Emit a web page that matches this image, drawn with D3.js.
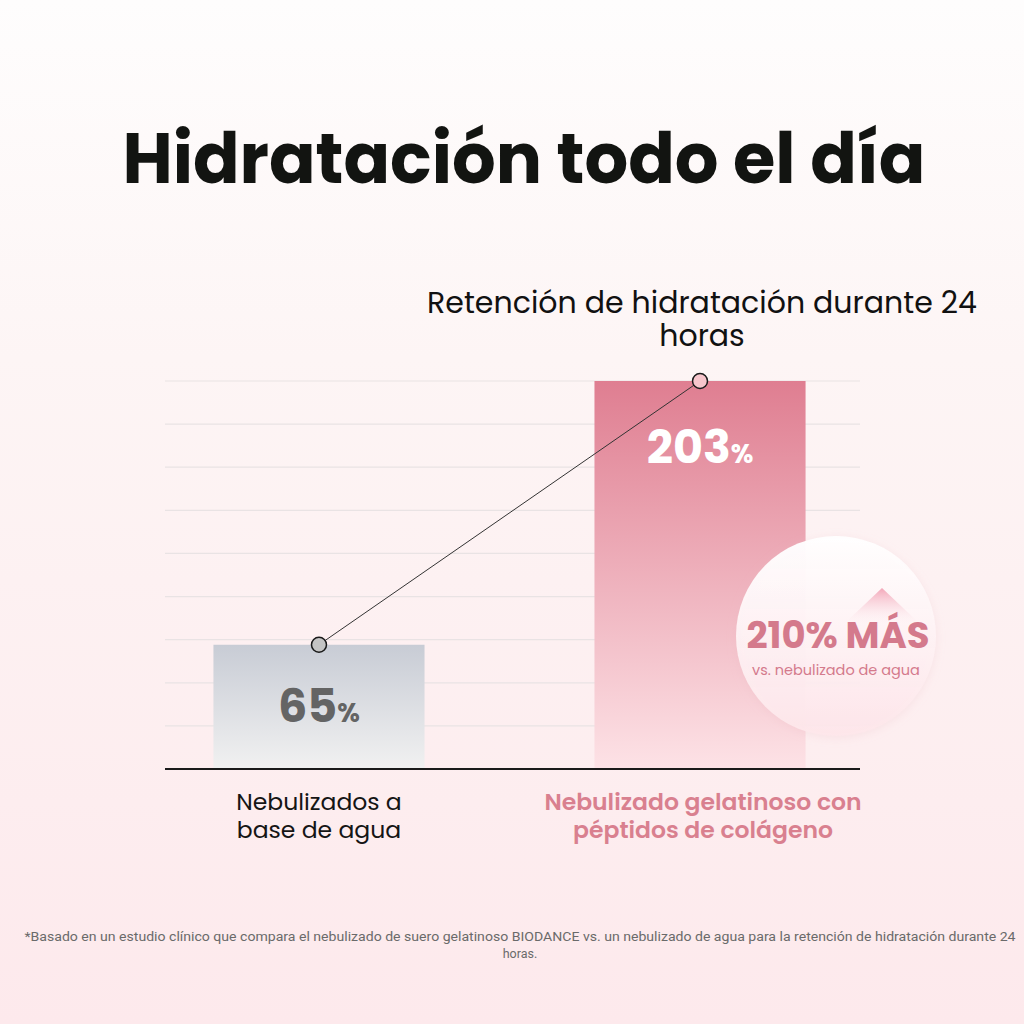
<!DOCTYPE html>
<html lang="es">
<head>
<meta charset="UTF-8">
<script src="https://d3js.org/d3.v7.min.js"></script>
<style>
  html, body { margin: 0; padding: 0; }
  body { width: 1024px; height: 1024px; overflow: hidden; }
</style>
</head>
<body>
<script>
// data
const categories = ["Nebulizados a base de agua", "Nebulizado gelatinoso con péptidos de colágeno"];
const labelLines = [["Nebulizados a", "base de agua"], ["Nebulizado gelatinoso con", "péptidos de colágeno"]];
const values = [65, 203];
const gridCount = 9;
const title = "Hidratación todo el día";
const subtitle = ["Retención de hidratación durante 24", "horas"];
const badgeMain = "210% MÁS";
const badgeSub = "vs. nebulizado de agua";
const footnote = ["*Basado en un estudio clínico que compara el nebulizado de suero gelatinoso BIODANCE vs. un nebulizado de agua para la retención de hidratación durante 24", "horas."];

const width = 1024, height = 1024;
const font = "Poppins, Inter, 'Noto Sans', sans-serif";

const svg = d3.select("body").append("svg")
  .attr("width", width)
  .attr("height", height);

const defs = svg.append("defs");

const bg = defs.append("linearGradient").attr("id", "bg").attr("x1", 0).attr("y1", 0).attr("x2", 0).attr("y2", 1);
bg.append("stop").attr("offset", "0%").attr("stop-color", "#fefdfd");
bg.append("stop").attr("offset", "35%").attr("stop-color", "#fdf5f5");
bg.append("stop").attr("offset", "100%").attr("stop-color", "#fde9ec");

const gGray = defs.append("linearGradient").attr("id", "barGray").attr("x1", 0).attr("y1", 0).attr("x2", 0).attr("y2", 1);
gGray.append("stop").attr("offset", "0%").attr("stop-color", "#c8ccd5");
gGray.append("stop").attr("offset", "100%").attr("stop-color", "#f1f1f1");

const gPink = defs.append("linearGradient").attr("id", "barPink").attr("x1", 0).attr("y1", 0).attr("x2", 0).attr("y2", 1);
gPink.append("stop").attr("offset", "0%").attr("stop-color", "#df7e91");
gPink.append("stop").attr("offset", "100%").attr("stop-color", "#fde2e6");

const gBadge = defs.append("linearGradient").attr("id", "badge").attr("x1", 0).attr("y1", 0).attr("x2", 0).attr("y2", 1);
gBadge.append("stop").attr("offset", "0%").attr("stop-color", "#ffffff").attr("stop-opacity", 0.97);
gBadge.append("stop").attr("offset", "100%").attr("stop-color", "#fde6ea").attr("stop-opacity", 0.95);

const gArrow = defs.append("linearGradient").attr("id", "arrow").attr("x1", 0).attr("y1", 0).attr("x2", 0).attr("y2", 1);
gArrow.append("stop").attr("offset", "0%").attr("stop-color", "#f3a6b8");
gArrow.append("stop").attr("offset", "100%").attr("stop-color", "#fdeef1").attr("stop-opacity", 0);

const shadow = defs.append("filter").attr("id", "soft").attr("x", "-30%").attr("y", "-30%").attr("width", "160%").attr("height", "160%");
shadow.append("feGaussianBlur").attr("in", "SourceAlpha").attr("stdDeviation", 5);
shadow.append("feOffset").attr("dy", 2).attr("result", "b");
shadow.append("feFlood").attr("flood-color", "#e9b7c0").attr("flood-opacity", 0.25);
shadow.append("feComposite").attr("in2", "b").attr("operator", "in");
const merge = shadow.append("feMerge");
merge.append("feMergeNode");
merge.append("feMergeNode").attr("in", "SourceGraphic");

svg.append("rect").attr("width", width).attr("height", height).attr("fill", "url(#bg)");

// title
svg.append("text")
  .attr("x", 524).attr("y", 183)
  .attr("text-anchor", "middle")
  .attr("font-family", font)
  .attr("font-weight", 700)
  .attr("font-size", 70)
  .attr("fill", "#121411")
  .attr("textLength", 803)
  .attr("lengthAdjust", "spacingAndGlyphs")
  .text(title);

// subtitle
svg.append("g").selectAll("text")
  .data(subtitle)
  .join("text")
  .attr("x", 702).attr("y", (d, i) => 313 + i * 33)
  .attr("text-anchor", "middle")
  .attr("font-family", font)
  .attr("font-size", 30)
  .attr("fill", "#111")
  .text(d => d);

// scales
const x = d3.scaleBand()
  .domain(categories)
  .range([162, 857])
  .paddingInner(0.446)
  .paddingOuter(0.135);

const y = d3.scaleLinear()
  .domain([0, d3.max(values)])
  .range([769, 381]);

const gridVals = d3.range(1, gridCount + 1).map(i => i * d3.max(values) / gridCount);

svg.append("g").selectAll("line")
  .data(gridVals)
  .join("line")
  .attr("x1", 165).attr("x2", 860)
  .attr("y1", d => y(d)).attr("y2", d => y(d))
  .attr("stroke", "#e9e3e4")
  .attr("stroke-width", 1.2);

// bars
svg.append("g").selectAll("rect")
  .data(values)
  .join("rect")
  .attr("x", (d, i) => x(categories[i]))
  .attr("y", d => y(d))
  .attr("width", x.bandwidth())
  .attr("height", d => y(0) - y(d))
  .attr("fill", (d, i) => i === 0 ? "url(#barGray)" : "url(#barPink)");

// axis baseline
svg.append("line")
  .attr("x1", 165).attr("x2", 860)
  .attr("y1", y(0)).attr("y2", y(0))
  .attr("stroke", "#1a1a1a")
  .attr("stroke-width", 2);

// badge circle
const bx = 836, by = 636, br = 100;
svg.append("circle")
  .attr("cx", bx).attr("cy", by).attr("r", br)
  .attr("fill", "url(#badge)")
  .attr("filter", "url(#soft)");

svg.append("path")
  .attr("d", `M${bx + 46},${by - 48} L${bx + 84},${by - 12} L${bx + 8},${by - 12} Z`)
  .attr("fill", "url(#arrow)");

svg.append("text")
  .attr("x", bx + 2).attr("y", by + 12)
  .attr("text-anchor", "middle")
  .attr("font-family", font)
  .attr("font-weight", 700)
  .attr("font-size", 37)
  .attr("fill", "#d47a8c")
  .text(badgeMain);

svg.append("text")
  .attr("x", bx).attr("y", by + 39)
  .attr("text-anchor", "middle")
  .attr("font-family", font)
  .attr("font-size", 14.5)
  .attr("fill", "#d47a8c")
  .text(badgeSub);

// connecting line + dots
const cx = (d, i) => x(categories[i]) + x.bandwidth() / 2;
svg.append("line")
  .attr("x1", cx(values[0], 0)).attr("y1", y(values[0]))
  .attr("x2", cx(values[1], 1)).attr("y2", y(values[1]))
  .attr("stroke", "#333")
  .attr("stroke-width", 1);

svg.append("g").selectAll("circle")
  .data(values)
  .join("circle")
  .attr("cx", cx)
  .attr("cy", d => y(d))
  .attr("r", 7.5)
  .attr("fill", (d, i) => i === 0 ? "#c4c4c4" : "#f7c5cc")
  .attr("stroke", "#1a1a1a")
  .attr("stroke-width", 1.5);

// value labels
const vl = svg.append("g").selectAll("text")
  .data(values)
  .join("text")
  .attr("x", cx)
  .attr("y", (d, i) => i === 0 ? 722 : 463)
  .attr("text-anchor", "middle")
  .attr("font-family", font)
  .attr("font-weight", 700)
  .attr("fill", (d, i) => i === 0 ? "#646464" : "#ffffff");
vl.append("tspan").attr("font-size", 46).text(d => d);
vl.append("tspan").attr("font-size", 26).text("%");

// category labels
labelLines.forEach((lines, i) => {
  svg.append("g").selectAll("text")
    .data(lines)
    .join("text")
    .attr("x", x(categories[i]) + x.bandwidth() / 2 + (i === 0 ? 0 : 3))
    .attr("y", (d, j) => 810 + j * 28)
    .attr("text-anchor", "middle")
    .attr("font-family", font)
    .attr("font-weight", i === 0 ? 400 : 600)
    .attr("font-size", 23.5)
    .attr("fill", i === 0 ? "#151515" : "#d9808f")
    .text(d => d);
});

// footnote
svg.append("g").selectAll("text")
  .data(footnote)
  .join("text")
  .attr("x", 520).attr("y", (d, i) => 941 + i * 17)
  .attr("text-anchor", "middle")
  .attr("font-family", "Roboto, 'Noto Sans', sans-serif")
  .attr("font-size", 12.5)
  .attr("fill", "#6a6a6a")
  .attr("textLength", (d, i) => i === 0 ? 991 : null)
  .attr("lengthAdjust", "spacingAndGlyphs")
  .text(d => d);
</script>
</body>
</html>
